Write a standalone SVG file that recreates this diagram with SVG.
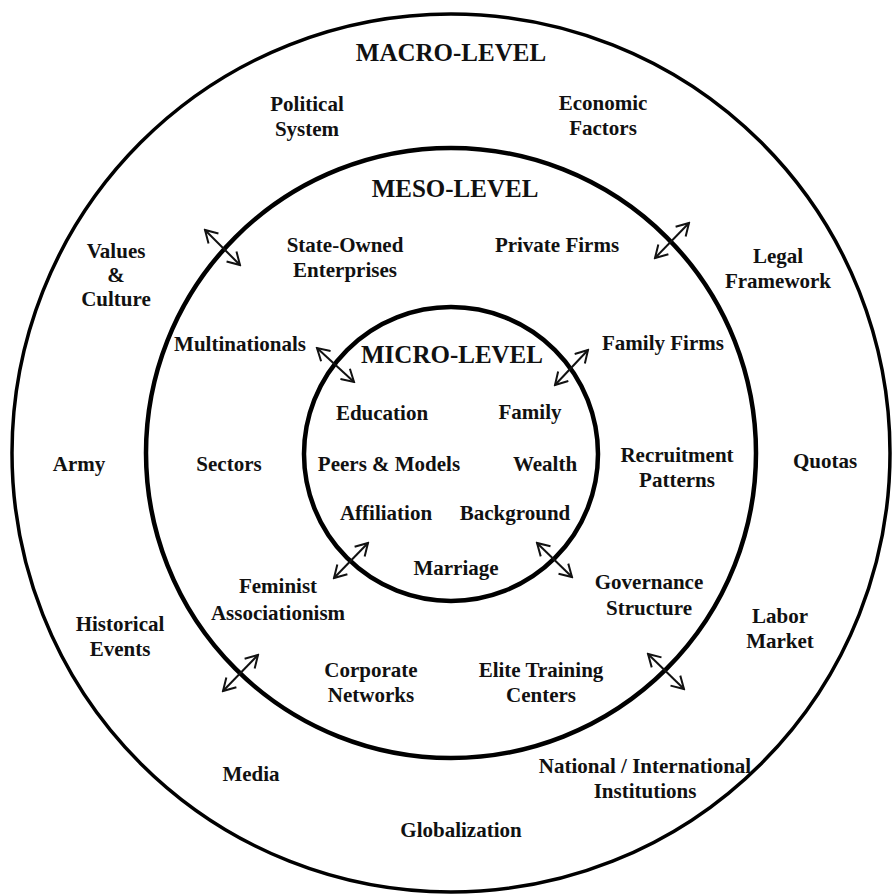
<svg xmlns="http://www.w3.org/2000/svg" width="892" height="896" viewBox="0 0 892 896">
<style>
text{font-family:"Liberation Serif","Times New Roman",serif;font-weight:bold;fill:#111;text-anchor:middle;font-size:21px}
.h{font-size:25px}
.ring{fill:none;stroke:#000}
.arr{stroke:#111;stroke-width:2;fill:none;marker-start:url(#ah);marker-end:url(#ah)}
</style>
<defs>
<marker id="ah" viewBox="0 0 16 16" refX="14" refY="8" markerWidth="16" markerHeight="16" markerUnits="userSpaceOnUse" orient="auto-start-reverse">
<path d="M2,1 L14,8 L2,15" fill="none" stroke="#111" stroke-width="2"/>
</marker>
</defs>
<rect width="892" height="896" fill="#fff"/>
<g id="macro">
<circle class="ring" cx="451" cy="453" r="439" stroke-width="3.5"/>
<text class="h" x="451" y="61">MACRO-LEVEL</text>
<text x="307" y="111">Political</text><text x="307" y="136">System</text>
<text x="603" y="110">Economic</text><text x="603" y="135">Factors</text>
<text x="116" y="258">Values</text><text x="116" y="282">&amp;</text><text x="116" y="306">Culture</text>
<text x="778" y="263">Legal</text><text x="778" y="288">Framework</text>
<text x="79" y="471">Army</text>
<text x="825" y="468">Quotas</text>
<text x="120" y="631">Historical</text><text x="120" y="656">Events</text>
<text x="780" y="623">Labor</text><text x="780" y="648">Market</text>
<text x="251" y="781">Media</text>
<text x="645" y="773">National / International</text><text x="645" y="798">Institutions</text>
<text x="461" y="837">Globalization</text>
</g>
<g id="meso">
<circle class="ring" cx="451" cy="453" r="305" stroke-width="4.5"/>
<text class="h" x="455" y="197">MESO-LEVEL</text>
<text x="345" y="252">State-Owned</text><text x="345" y="277">Enterprises</text>
<text x="557" y="252">Private Firms</text>
<text x="240" y="351">Multinationals</text>
<text x="663" y="350">Family Firms</text>
<text x="229" y="471">Sectors</text>
<text x="677" y="462">Recruitment</text><text x="677" y="487">Patterns</text>
<text x="278" y="593">Feminist</text><text x="278" y="620">Associationism</text>
<text x="649" y="589">Governance</text><text x="649" y="615">Structure</text>
<text x="371" y="677">Corporate</text><text x="371" y="702">Networks</text>
<text x="541" y="677">Elite Training</text><text x="541" y="702">Centers</text>
</g>
<g id="micro">
<circle class="ring" cx="451" cy="454" r="147" stroke-width="4.5"/>
<text class="h" x="452" y="363">MICRO-LEVEL</text>
<text x="382" y="420">Education</text>
<text x="530" y="419">Family</text>
<text x="389" y="471">Peers &amp; Models</text>
<text x="545" y="471">Wealth</text>
<text x="386" y="520">Affiliation</text>
<text x="515" y="520">Background</text>
<text x="456" y="575">Marriage</text>
</g>
<g id="connectors">
<line class="arr" x1="205" y1="230" x2="240" y2="265"/>
<line class="arr" x1="655" y1="258" x2="689" y2="223"/>
<line class="arr" x1="317" y1="348" x2="354" y2="382"/>
<line class="arr" x1="555" y1="385" x2="588" y2="350"/>
<line class="arr" x1="334" y1="578" x2="368" y2="543"/>
<line class="arr" x1="537" y1="543" x2="572" y2="577"/>
<line class="arr" x1="223" y1="691" x2="258" y2="655"/>
<line class="arr" x1="648" y1="654" x2="684" y2="689"/>
</g>
</svg>
